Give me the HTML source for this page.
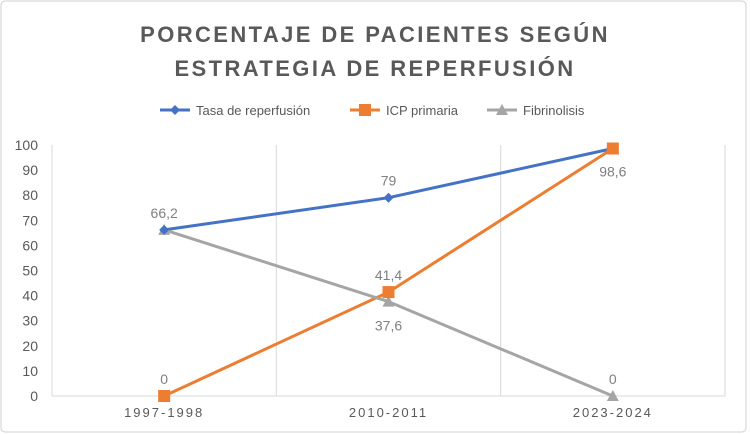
<!DOCTYPE html>
<html><head><meta charset="utf-8"><style>
body{margin:0;background:#fff;}
svg{display:block;font-family:"Liberation Sans",sans-serif;}
</style></head><body>
<svg id="c" width="750" height="434">
<rect x="1" y="1" width="745" height="431" rx="4" fill="#fff" stroke="#d0d0d0"/>
<text x="375" y="42" text-anchor="middle" font-size="22" font-weight="bold" fill="#595959" letter-spacing="2.4">PORCENTAJE DE PACIENTES SEGÚN</text>
<text x="375" y="76" text-anchor="middle" font-size="22" font-weight="bold" fill="#595959" letter-spacing="2.4">ESTRATEGIA DE REPERFUSIÓN</text>
<g id="legend"></g>
<g id="grid"></g><g id="axes"></g><g id="series"></g>
</svg>
<script>
const categories=["1997-1998","2010-2011","2023-2024"];
const seriesNames=["Tasa de reperfusión","ICP primaria","Fibrinolisis"];
const tasa=[66.2,79,98.6];
const icp=[0,41.4,98.6];
const fibr=[66.2,37.6,0];
const yTicks=[0,10,20,30,40,50,60,70,80,90,100];
const colors=["#4472c4","#ed7d31","#a5a5a5"];
const NS="http://www.w3.org/2000/svg";
const L=52,R=725,T=145,B=396;
const bw=(R-L)/categories.length;
const x=i=>L+bw*(i+0.5);
const y=v=>B-(v/100)*(B-T);
function mk(tag,attrs,parent,txt){const e=document.createElementNS(NS,tag);for(const k in attrs)e.setAttribute(k,attrs[k]);if(txt!==undefined)e.textContent=txt;document.getElementById(parent).appendChild(e);return e;}
for(let i=1;i<categories.length;i++){const e=mk('line',{x1:L+bw*i,x2:L+bw*i,y1:T,y2:B,stroke:'#d9d9d9'},'grid');

}
let e=mk('line',{x1:L,x2:L,y1:T,y2:B,stroke:'#d9d9d9'},'axes');


e=mk('line',{x1:R,x2:R,y1:T,y2:B,stroke:'#d9d9d9'},'axes');


e=mk('line',{x1:L,x2:R,y1:B,y2:B,stroke:'#d9d9d9'},'axes');


yTicks.forEach(t=>{const e=mk('text',{x:38,y:y(t)+5,'text-anchor':'end','font-size':14,fill:'#595959'},'axes',t);

});
categories.forEach((c,i)=>{const e=mk('text',{x:x(i),y:417,'text-anchor':'middle','font-size':13,fill:'#595959','letter-spacing':2},'axes',c);

});
const lx=[160,350,487];
seriesNames.forEach((n,i)=>{
 const l=mk('line',{x1:lx[i],x2:lx[i]+30,y1:110,y2:110,stroke:colors[i],'stroke-width':3},'legend');
 
 
 drawMarker(i,lx[i]+15,110,'legend');
 const t=mk('text',{x:lx[i]+36,y:115,'font-size':13,fill:'#595959'},'legend',n);
 
 
});
function drawMarker(s,cx,cy,parent){let m;
 if(s===0)m=mk('polygon',{points:`${cx},${cy-5} ${cx+5},${cy} ${cx},${cy+5} ${cx-5},${cy}`,fill:colors[0]},parent);
 else if(s===1)m=mk('rect',{x:cx-6,y:cy-6,width:12,height:12,fill:colors[1]},parent);
 else m=mk('polygon',{points:`${cx},${cy-6} ${cx+6},${cy+5} ${cx-6},${cy+5}`,fill:colors[2]},parent);
 
 }
const all=[tasa,icp,fibr];
const labelOff=[[-17,-17,-17],[-17,-17,23],[-17,24,-17]];
all.forEach((vals,s)=>{
 const p=mk('polyline',{points:vals.map((v,i)=>x(i)+','+y(v)).join(' '),fill:'none',stroke:colors[s],'stroke-width':3},'series');
 
 
});
[2,0,1].forEach(s=>all[s].forEach((v,i)=>drawMarker(s,x(i),y(v),'series')));
const shown=[[0,0],[0,1],[1,0],[1,1],[1,2],[2,1],[2,2]];
shown.forEach(([s,i])=>{const v=all[s][i];
 const t=mk('text',{x:x(i),y:y(v)+labelOff[s][i]+5,'text-anchor':'middle','font-size':14,fill:'#7f7f7f'},'series',String(v).replace('.',','));
 
 });
</script>
</body></html>
